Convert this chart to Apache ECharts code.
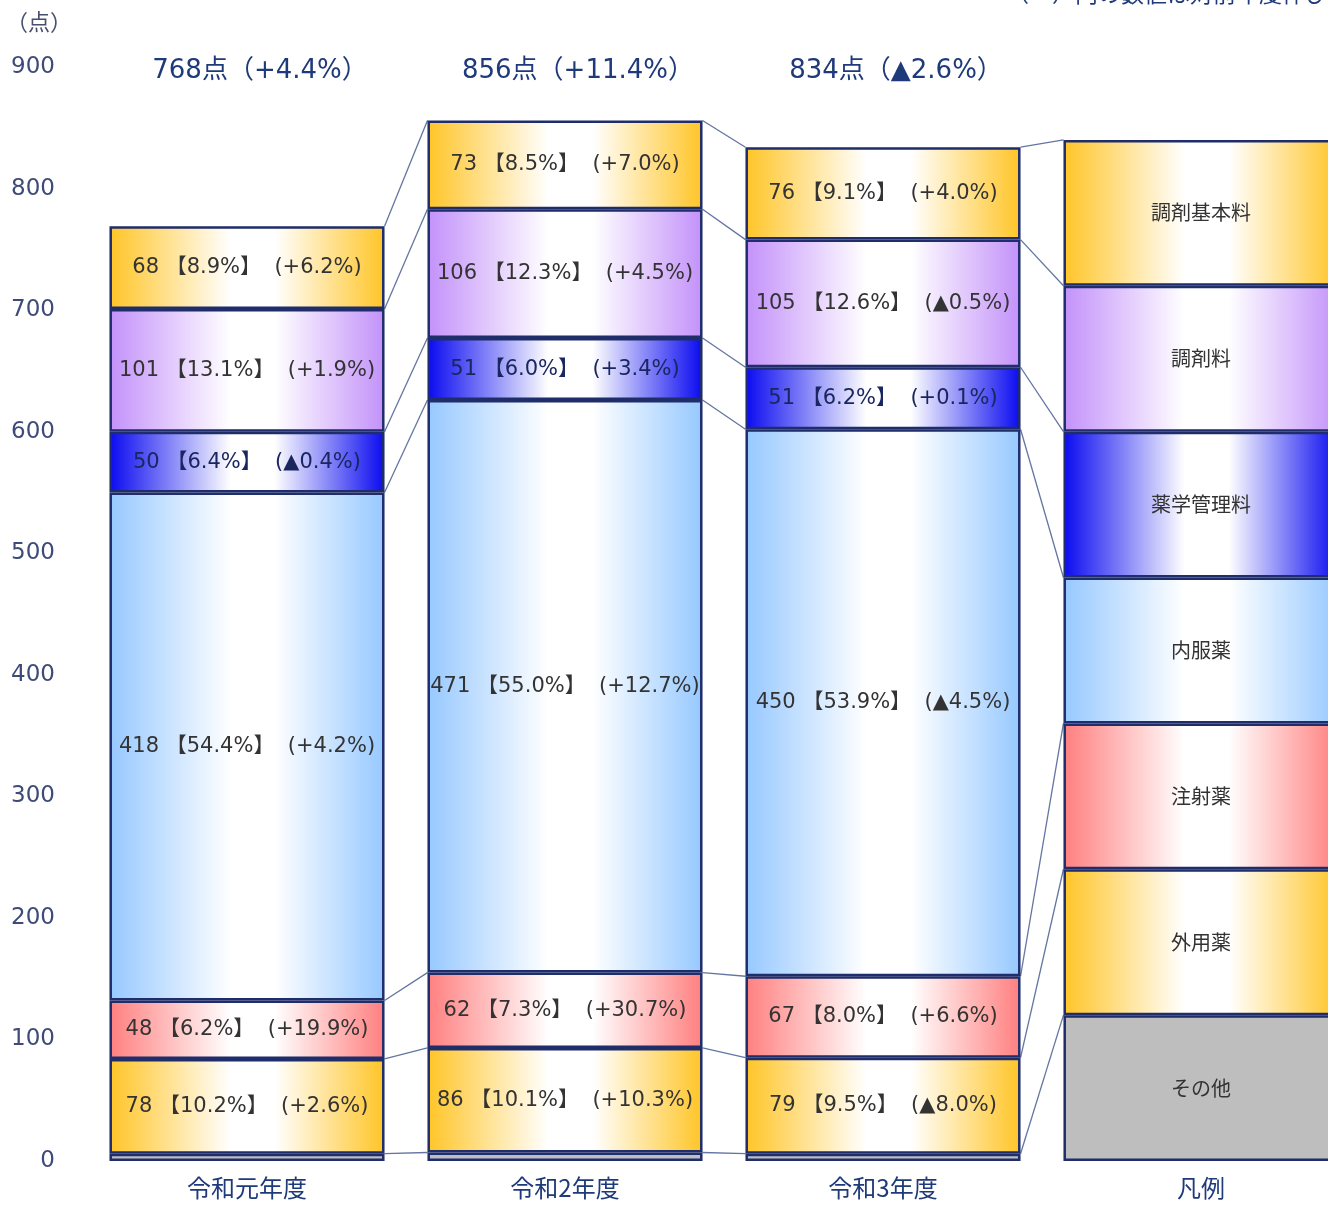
<!DOCTYPE html>
<html><head><meta charset="utf-8">
<script src="https://cdn.jsdelivr.net/npm/echarts@6/dist/echarts.min.js"></script>
<style>html,body{margin:0;padding:0;background:#fff;overflow:hidden;width:1328px;height:1206px}#c{width:1360px;height:1206px}</style>
</head><body><div id="c"></div>
<script>
// categories (bottom axis) and legend column
const categories = ['令和元年度', '令和2年度', '令和3年度', '凡例'];
// series names, bottom to top
const seriesNames = ['その他', '外用薬', '注射薬', '内服薬', '薬学管理料', '調剤料', '調剤基本料'];
// values per series (R1, R2, R3, legend column)
const sonota   = [6, 7, 6, 120];
const gaiyo    = [78, 86, 79, 120];
const chusha   = [48, 62, 67, 120];
const naifuku  = [418, 471, 450, 120];
const yakugaku = [50, 51, 51, 120];
const chozai   = [101, 106, 105, 120];
const kihon    = [68, 73, 76, 120];
// share of total
const shareGaiyo    = ['10.2%', '10.1%', '9.5%'];
const shareChusha   = ['6.2%', '7.3%', '8.0%'];
const shareNaifuku  = ['54.4%', '55.0%', '53.9%'];
const shareYakugaku = ['6.4%', '6.0%', '6.2%'];
const shareChozai   = ['13.1%', '12.3%', '12.6%'];
const shareKihon    = ['8.9%', '8.5%', '9.1%'];
// change from previous year
const chgGaiyo    = ['+2.6%', '+10.3%', '▲8.0%'];
const chgChusha   = ['+19.9%', '+30.7%', '+6.6%'];
const chgNaifuku  = ['+4.2%', '+12.7%', '▲4.5%'];
const chgYakugaku = ['▲0.4%', '+3.4%', '+0.1%'];
const chgChozai   = ['+1.9%', '+4.5%', '▲0.5%'];
const chgKihon    = ['+6.2%', '+7.0%', '+4.0%'];
// totals
const totals = [768, 856, 834];
const totalChg = ['+4.4%', '+11.4%', '▲2.6%'];
// y ticks
const yMin = 0, yMax = 900, yStep = 100;

const values = [sonota, gaiyo, chusha, naifuku, yakugaku, chozai, kihon];
const shares = [null, shareGaiyo, shareChusha, shareNaifuku, shareYakugaku, shareChozai, shareKihon];
const chgs = [null, chgGaiyo, chgChusha, chgNaifuku, chgYakugaku, chgChozai, chgKihon];
const baseColors = ['#BEBEBE', '#FFC527', '#FF7F7F', '#96C8FF', '#0A0AF0', '#C391FA', '#FFC527'];
const labelColors = ['#333', '#333', '#333', '#333', '#1A2660', '#333', '#333'];

const BAR_FRAC = 0.865;
const FONT = '"DejaVu Sans","Noto Sans CJK JP",sans-serif';
const JFONT = '"Noto Sans CJK JP",sans-serif';

function grad(c) {
  return {
    type: 'linear', x: 0, y: 0, x2: 1, y2: 0,
    colorStops: [
      {offset: 0, color: c},
      {offset: 0.44, color: '#ffffff'},
      {offset: 0.6, color: '#ffffff'},
      {offset: 1, color: c}
    ]
  };
}

// cumulative tops per column
const nCols = categories.length;
const cumTops = [];
for (let i = 0; i < nCols; i++) {
  let s = 0; const arr = [];
  for (let k = 0; k < values.length; k++) { s += values[k][i]; arr.push(s); }
  cumTops.push(arr);
}

const series = values.map((vals, k) => ({
  name: seriesNames[k],
  type: 'bar',
  stack: 'total',
  barWidth: (BAR_FRAC * 100) + '%',
  data: vals,
  z: 3,
  itemStyle: {
    color: k === 0 ? baseColors[0] : grad(baseColors[k]),
    borderColor: '#1F2D6B',
    borderWidth: 2.5
  },
  label: {
    show: true,
    position: 'inside',
    fontFamily: FONT,
    fontSize: 21,
    color: labelColors[k],
    formatter: p => {
      if (p.dataIndex === 3) return '{leg|' + seriesNames[k] + '}';
      if (k === 0) return '';
      return vals[p.dataIndex] + ' 【' + shares[k][p.dataIndex] + '】  (' + chgs[k][p.dataIndex] + ')';
    },
    rich: { leg: { fontFamily: JFONT, fontSize: 20, color: '#333' } }
  }
}));

series.push({
  type: 'custom',
  z: 2,
  silent: true,
  data: [[0, 0], [1, 0], [2, 0]],
  encode: {x: 0, y: 1},
  renderItem: (params, api) => {
    const i = api.value(0);
    const half = api.size([1, 0])[0] * BAR_FRAC / 2;
    const children = [];
    for (let k = 0; k < values.length; k++) {
      const p1 = api.coord([i, cumTops[i][k]]);
      const p2 = api.coord([i + 1, cumTops[i + 1][k]]);
      children.push({
        type: 'line',
        shape: {x1: p1[0] + half, y1: p1[1], x2: p2[0] - half, y2: p2[1]},
        style: {stroke: '#6475A0', lineWidth: 1.3}
      });
    }
    return {type: 'group', children};
  }
});

const chart = echarts.init(document.getElementById('c'));
chart.setOption({
  animation: false,
  backgroundColor: '#fff',
  grid: {left: 88, right: 0, top: 67, height: 1094, outerBoundsMode: 'none', containLabel: false},
  xAxis: [
    {
      type: 'category', data: categories, position: 'bottom',
      axisLine: {show: false}, axisTick: {show: false},
      axisLabel: {interval: 0, fontFamily: JFONT, fontSize: 24, color: '#1F3A7A', margin: 15}
    },
    {
      type: 'category', position: 'top',
      data: categories.map((c, i) => i < totals.length ? totals[i] + '点（' + totalChg[i] + '）' : ''),
      axisLine: {show: false}, axisTick: {show: false},
      axisLabel: {interval: 0, hideOverlap: false, fontFamily: FONT, fontSize: 26, color: '#1F3A7A', margin: -17,
        formatter: v => v ? '{t|' + v + '}' : '',
        rich: {t: {fontFamily: FONT, fontSize: 26, color: '#1F3A7A', padding: [0, 0, 0, 26]}}}
    }
  ],
  yAxis: {
    type: 'value', min: yMin, max: yMax, interval: yStep,
    name: '（点）', nameLocation: 'end', nameGap: 45,
    nameTextStyle: {fontFamily: JFONT, fontSize: 22, color: '#44506E', align: 'right', verticalAlign: 'middle', padding: [0, 16, 0, 0]},
    axisLine: {show: false}, axisTick: {show: false}, splitLine: {show: false},
    axisLabel: {fontFamily: FONT, fontSize: 23, color: '#3E4B78', margin: 33}
  },
  graphic: [{
    type: 'text', left: 1006, top: -18,
    style: {text: '（　）内の数値は対前年度伸び率', fontFamily: JFONT, fontSize: 23, fill: '#1F3A7A'}
  }],
  series
});
</script></body></html>
